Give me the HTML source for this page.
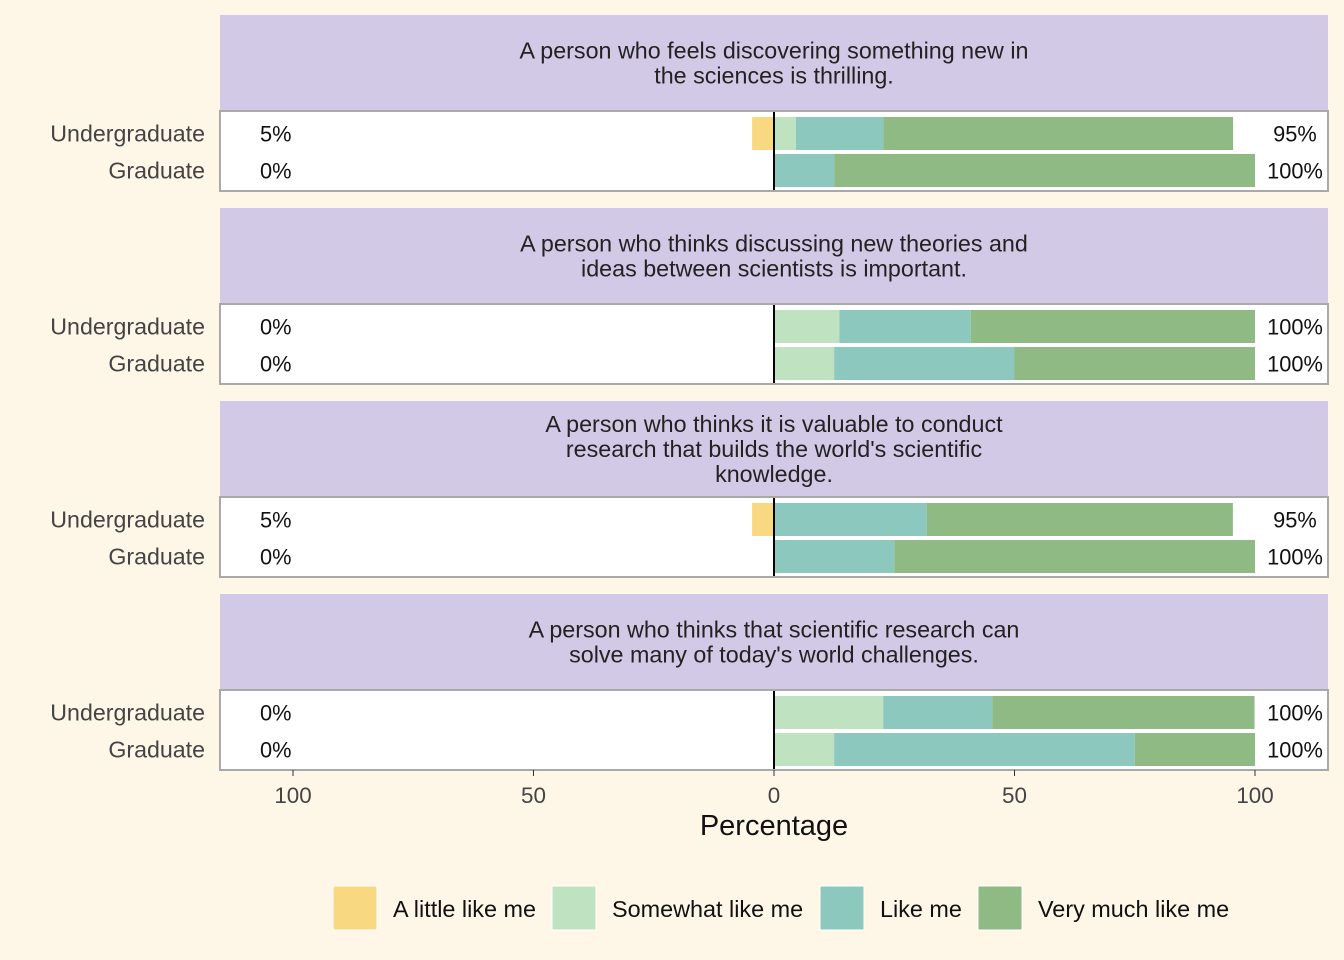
<!DOCTYPE html>
<html><head><meta charset="utf-8"><style>
body{margin:0;background:#FEF7E8;}
svg{display:block;font-family:"Liberation Sans",Arial,sans-serif;}
</style></head><body>
<svg id="c" width="1344" height="960">
<rect x="0" y="0" width="1344" height="960" fill="#FEF7E8"/>
</svg>
<script>
const titles=[["A person who feels discovering something new in","the sciences is thrilling."],
["A person who thinks discussing new theories and","ideas between scientists is important."],
["A person who thinks it is valuable to conduct","research that builds the world's scientific","knowledge."],
["A person who thinks that scientific research can","solve many of today's world challenges."]];
const groups=["Undergraduate","Graduate"];
const categories=["A little like me","Somewhat like me","Like me","Very much like me"];
const littleVals=[[4.55,0],[0,0],[4.55,0],[0,0]];
const somewhatVals=[[4.55,0],[13.6,12.5],[0,0],[22.7,12.5]];
const likeVals=[[18.2,12.5],[27.3,37.5],[31.8,25],[22.7,62.5]];
const veryVals=[[72.7,87.5],[59.1,50],[63.6,75],[54.5,25]];
const leftLabels=[["5%","0%"],["0%","0%"],["5%","0%"],["0%","0%"]];
const rightLabels=[["95%","100%"],["100%","100%"],["95%","100%"],["100%","100%"]];
const xTicks=[-100,-50,0,50,100];
const xTickLabels=["100","50","0","50","100"];
const colors=["#F8D982","#BFE3C0","#8CC8BE","#8FBA84"];
const svg=document.getElementById('c');
const NS="http://www.w3.org/2000/svg";
function el(t,a,p){const e=document.createElementNS(NS,t);for(const k in a)e.setAttribute(k,a[k]);(p||svg).appendChild(e);return e;}
const X0=220,X1=1328;
const xs=v=>774+v*4.81;
const panelTop=[15,208,401,594];
const stripH=96,plotH=80;
panelTop.forEach((top,p)=>{
  const s=el('rect',{x:X0,y:top,width:X1-X0,height:stripH,fill:'#D2C9E6'});
  
  const lines=titles[p];const lh=25;const cy=top+stripH/2-(lines.length-1)*lh/2;
  lines.forEach((l,i)=>{const t=el('text',{x:774,y:cy+i*lh+8,'text-anchor':'middle','font-size':23.3,fill:'#222'});t.textContent=l;
    });
  const py=top+stripH;
  const bg=el('rect',{x:X0,y:py,width:X1-X0,height:plotH,fill:'#fff'});
  
  [0,1].forEach(g=>{
    const y=py+6+g*37,h=33;
    const lv=littleVals[p][g];
    if(lv>0){const r=el('rect',{x:xs(-lv),y:y,width:xs(0)-xs(-lv),height:h,fill:colors[0]});
      }
    let acc=0;
    [somewhatVals,likeVals,veryVals].forEach((arr,k)=>{const v=arr[p][g];if(v<=0)return;
      const r=el('rect',{x:xs(acc),y:y,width:xs(acc+v)-xs(acc),height:h,fill:colors[k+1]});
      acc+=v;});
    const cy2=y+h/2+8;
    const gl=el('text',{x:205,y:cy2,'text-anchor':'end','font-size':23.2,fill:'#444'});gl.textContent=groups[g];
    
    const ll=el('text',{x:260,y:cy2,'text-anchor':'start','font-size':21.8,fill:'#111'});ll.textContent=leftLabels[p][g];
    
    const rl=el('text',{x:1295,y:cy2,'text-anchor':'middle','font-size':21.8,fill:'#111'});rl.textContent=rightLabels[p][g];
    
  });
  el('line',{x1:774,x2:774,y1:py,y2:py+plotH,stroke:'#000','stroke-width':2});
  el('rect',{x:X0,y:py,width:X1-X0,height:plotH,fill:'none',stroke:'#A9A9A9','stroke-width':2});
});
xTicks.forEach((v,i)=>{
  el('line',{x1:xs(v),x2:xs(v),y1:770,y2:776,stroke:'#333','stroke-width':1});
  const t=el('text',{x:xs(v),y:803,'text-anchor':'middle','font-size':22.4,fill:'#444'});t.textContent=xTickLabels[i];
  
});
const xt=el('text',{x:774,y:835,'text-anchor':'middle','font-size':29,fill:'#111'});xt.textContent="Percentage";

const legX=[333,552,820,978];
categories.forEach((c,i)=>{
  const r=el('rect',{x:legX[i],y:886,width:44,height:44,fill:colors[i],stroke:'#fff','stroke-width':1});
  
  const t=el('text',{x:legX[i]+60,y:917,'font-size':23.4,fill:'#111'});t.textContent=c;
  
});
</script>
</body></html>
